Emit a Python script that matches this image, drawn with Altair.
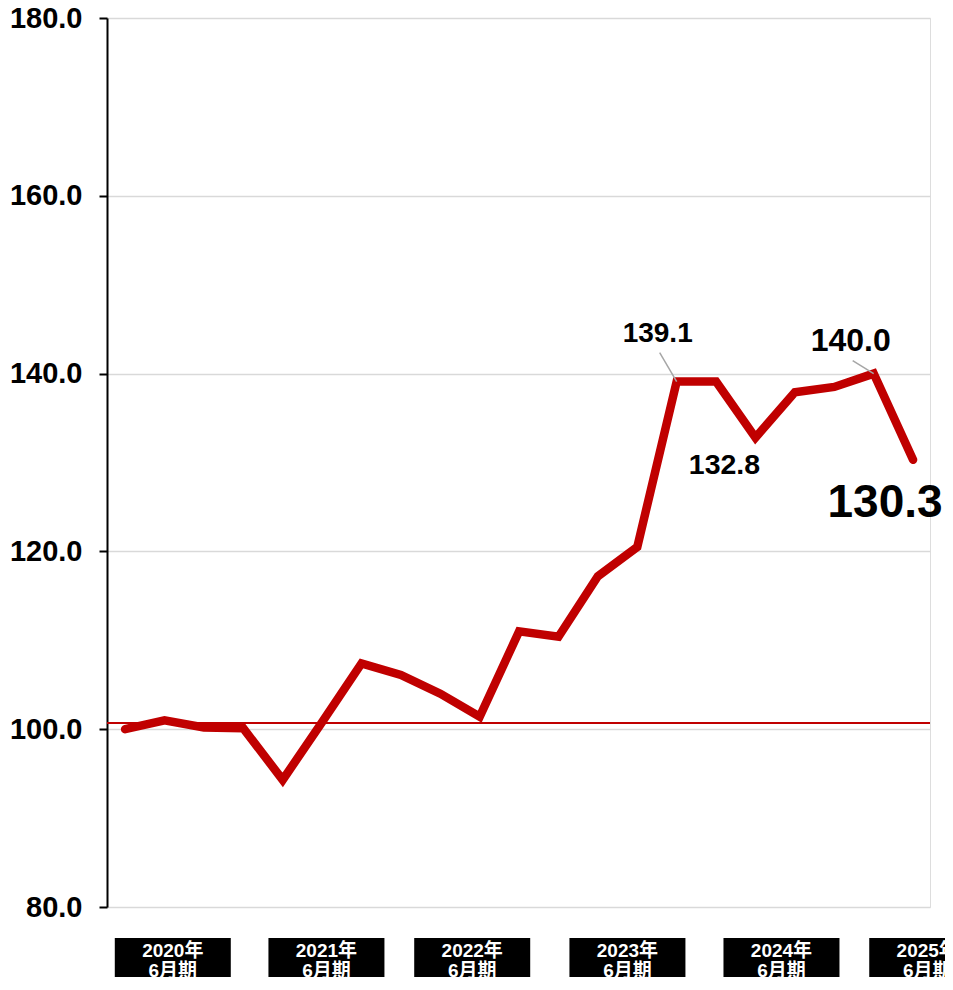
import altair as alt
import pandas as pd

# ---- data ----
values = [100.0, 101.0, 100.2, 100.1, 94.3, 100.8, 107.4, 106.1, 104.0, 101.4,
          111.0, 110.4, 117.2, 120.5, 139.1, 139.1, 132.8, 137.9, 138.5, 140.0, 130.3]
period_year = ["2020年", "2021年", "2022年", "2023年", "2024年", "2025年"]
period_term = ["6月期", "6月期", "6月期", "6月期", "6月期", "6月期"]
period_pos = [1.21, 5.11, 8.81, 12.75, 16.66, 20.36]
reference = [100.7]
y_ticks = [80, 100, 120, 140, 160, 180]

df = pd.DataFrame({"idx": list(range(len(values))), "value": values})
df["label"] = [f"{v:.1f}" for v in values]
per = pd.DataFrame({"pos": period_pos, "year": period_year, "term": period_term})
ref = pd.DataFrame({"ref": reference})

FONT = "Liberation Sans, Arial, Noto Sans CJK JP"
RED = "#c00000"

xs = alt.Scale(domain=[-0.46, 20.43], nice=False, zero=False)
ys = alt.Scale(domain=[80, 180], nice=False, zero=False)

X = alt.X("idx:Q", scale=xs, axis=None)
Y = alt.Y("value:Q", scale=ys, axis=alt.Axis(
    values=y_ticks, format=".1f", title=None,
    labelFont=FONT, labelFontSize=29, labelFontWeight="bold", labelColor="black",
    labelPadding=17, domainColor="black", domainWidth=2,
    tickColor="black", tickWidth=2, tickSize=8,
    gridColor="#d9d9d9", gridWidth=1.5))

base = alt.Chart(df)

line = base.mark_line(color=RED, strokeWidth=8.5, strokeCap="round", strokeJoin="miter").encode(x=X, y=Y)

ref_rule = alt.Chart(ref).mark_rule(color=RED, strokeWidth=2).encode(
    y=alt.Y("ref:Q", scale=ys))

def pick(i):
    return base.transform_filter(alt.datum.idx == i)

lead1 = pick(14).mark_rule(color="#a6a6a6", strokeWidth=1.5, x2Offset=-17, y2Offset=-29).encode(
    x=X, y=alt.Y("value:Q", scale=ys), x2="idx:Q", y2="value:Q")
lead2 = pick(19).mark_rule(color="#a6a6a6", strokeWidth=1.5, x2Offset=-21, y2Offset=-13).encode(
    x=X, y=alt.Y("value:Q", scale=ys), x2="idx:Q", y2="value:Q")

def lab(i, dx, dy, size):
    return pick(i).mark_text(font=FONT, fontWeight="bold", fontSize=size, color="black",
                             align="center", baseline="alphabetic", dx=dx, dy=dy).encode(
        x=X, y=alt.Y("value:Q", scale=ys), text="label:N")

t1 = lab(14, -19, -40, 28)
t2 = lab(16, -31, 36, 28.5)
t3 = lab(19, -23, -23, 32)
t4 = lab(20, -28, 57, 46)

PX = alt.X("pos:Q", scale=xs, axis=None)
boxes = alt.Chart(per).mark_rect(color="black", xOffset=-58, x2Offset=58).encode(
    x=PX, x2="pos:Q", y=alt.value(920), y2=alt.value(985))
yr = alt.Chart(per).mark_text(font=FONT, fontWeight="bold", fontSize=19, color="white",
                              align="center", baseline="alphabetic").encode(
    x=PX, y=alt.value(939), text="year:N")
tm = alt.Chart(per).mark_text(font=FONT, fontWeight="bold", fontSize=19, color="white",
                              align="center", baseline="alphabetic").encode(
    x=PX, y=alt.value(959), text="term:N")

chart = alt.layer(ref_rule, line, lead1, lead2, t1, t2, t3, t4, boxes, yr, tm).properties(
    width=823, height=889,
    autosize=alt.AutoSizeParams(type="none"),
    padding={"left": 99, "top": 10, "right": 15, "bottom": 70},
).configure_view(strokeOpacity=0, strokeWidth=0).configure(background="white")

chart.save("out.html", embed_options={"renderer": "svg", "actions": False})
